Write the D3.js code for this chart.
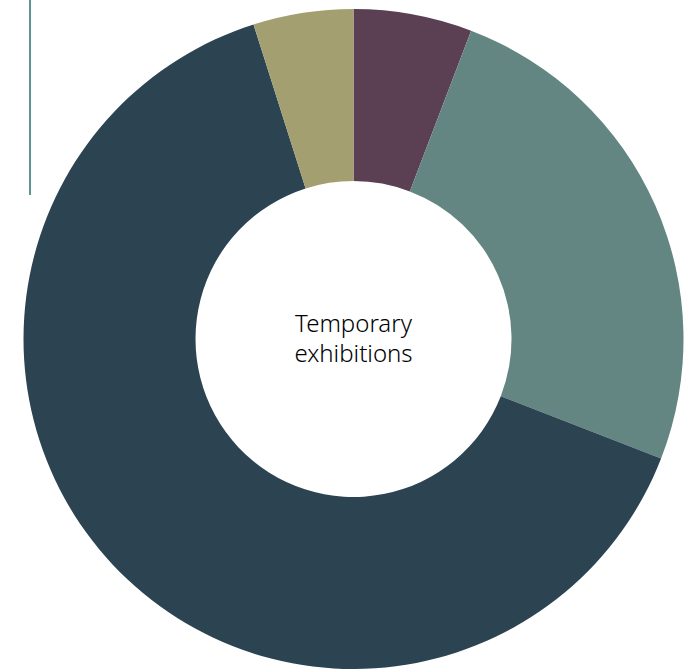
<!DOCTYPE html>
<html>
<head>
<meta charset="utf-8">
<script src="https://cdn.jsdelivr.net/npm/d3@7"></script>
<style>
  html, body { margin: 0; padding: 0; background: #ffffff; }
  svg { display: block; }
</style>
</head>
<body>
<svg id="chart" width="692" height="669"></svg>
<script>
// Data (shares, clockwise from 12 o'clock)
const categories = ["Segment A", "Segment B", "Segment C", "Segment D"];
const values = [5.8, 25.1, 64.2, 4.9];
const colors = ["#5b4053", "#648683", "#2c4452", "#a39f70"];
const centerLabel = ["Temporary", "exhibitions"];

const svg = d3.select("#chart");
const cx = 353.5, cy = 339, outerR = 330, innerR = 158;

// Accent rule at top left
svg.append("line")
  .attr("x1", 30).attr("x2", 30)
  .attr("y1", 0).attr("y2", 195)
  .attr("stroke", "#2a6f73")
  .attr("stroke-width", 1.5);

const pie = d3.pie().sort(null).value(d => d.value);
const arc = d3.arc().innerRadius(innerR).outerRadius(outerR);
const data = categories.map((c, i) => ({ name: c, value: values[i], color: colors[i] }));

const g = svg.append("g").attr("transform", `translate(${cx},${cy})`);
g.selectAll("path")
  .data(pie(data))
  .join("path")
  .attr("d", arc)
  .attr("fill", d => d.data.color);

const t = g.append("text")
  .attr("text-anchor", "middle")
  .attr("font-family", "'Noto Sans', sans-serif")
  .attr("font-size", 24)
  .attr("font-weight", 300)
  .attr("fill", "#000000");
t.selectAll("tspan")
  .data(centerLabel)
  .join("tspan")
  .attr("x", 0)
  .attr("y", (d, i) => -7 + i * 29.5)
  .text(d => d);
</script>
</body>
</html>
